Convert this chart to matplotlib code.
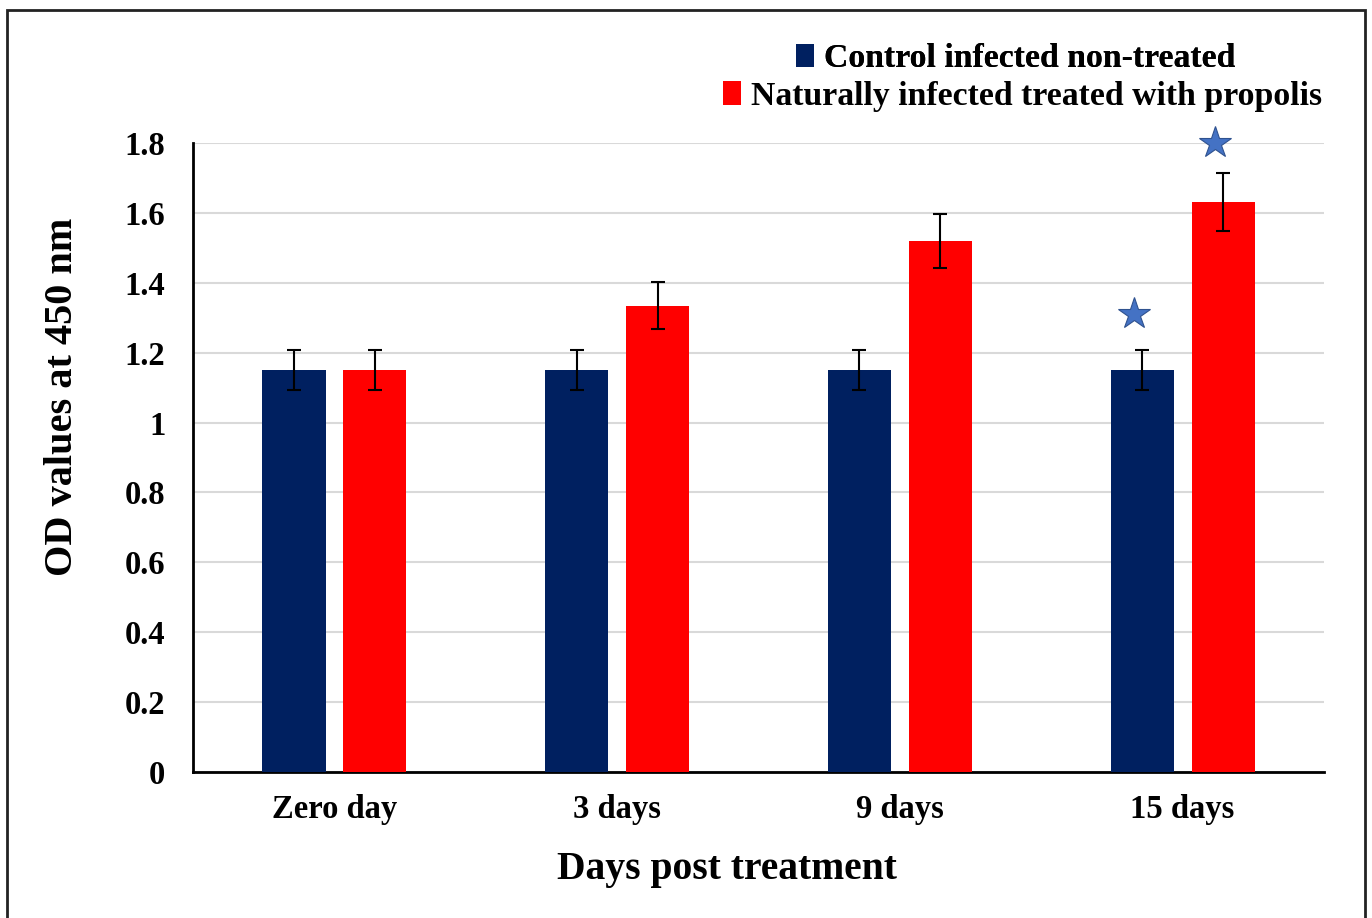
import matplotlib
matplotlib.use('Agg')
import matplotlib.pyplot as plt
from matplotlib.patches import Rectangle, Patch
import numpy as np

plt.rcParams['font.family'] = ['Liberation Serif', 'DejaVu Serif']
plt.rcParams['font.weight'] = 'bold'

# datos
dias = ['Zero day', '3 days', '9 days', '15 days']
control = [1.15, 1.15, 1.15, 1.15]
control_err = [0.057, 0.057, 0.057, 0.057]
propolis = [1.15, 1.335, 1.52, 1.63]
propolis_err = [0.057, 0.067, 0.078, 0.083]
estrellas_x = [3, 3]          # grupo 15 days
estrellas_serie = [0, 1]      # 0 = control, 1 = propolis
estrellas_y = [1.31, 1.80]

c_control = '#002060'
c_prop = '#FF0000'
c_star = '#4472C4'

fig = plt.figure(figsize=(13.72, 9.18), dpi=100)
ax = fig.add_axes([0.1407, 0.1590, 0.8243, 0.6852])

# marco exterior
fig.add_artist(Rectangle((7/1372, -0.05), (1365-7)/1372, 1.05 - 10/918,
                         transform=fig.transFigure, fill=False,
                         edgecolor='#222222', lw=2, clip_on=False))

x = np.arange(len(dias))
w = 0.223
off = 0.143
ax.bar(x - off, control, w, color=c_control, zorder=3)
ax.bar(x + off, propolis, w, color=c_prop, zorder=3)
ax.errorbar(x - off, control, yerr=control_err, fmt='none', ecolor='black',
            elinewidth=1.5, capsize=4.7, capthick=1.5, zorder=4)
ax.errorbar(x + off, propolis, yerr=propolis_err, fmt='none', ecolor='black',
            elinewidth=1.5, capsize=4.7, capthick=1.5, zorder=4)

sx = np.array(estrellas_x) + np.where(np.array(estrellas_serie) == 0, -off, off) - 0.03
ax.plot(sx, estrellas_y, linestyle='none', marker='*', ms=24,
        color=c_star, markeredgecolor='#2f528f', markeredgewidth=0.8,
        zorder=5, clip_on=False)

ax.set_xlim(-0.5, 3.5)
ax.set_ylim(0, 1.8)
ax.set_yticks(np.arange(0, 1.81, 0.2))
ax.set_yticklabels(['0', '0.2', '0.4', '0.6', '0.8', '1', '1.2', '1.4', '1.6', '1.8'])
ax.set_xticks(x)
ax.set_xticklabels(dias)
ax.tick_params(axis='both', length=0, labelsize=23.5)
ax.tick_params(axis='y', pad=20)
ax.tick_params(axis='x', pad=16)
ax.grid(axis='y', color='#d9d9d9', lw=1.5, zorder=0)
ax.set_axisbelow(True)
for s in ['top', 'right']:
    ax.spines[s].set_visible(False)
ax.spines['left'].set_linewidth(2)
ax.spines['bottom'].set_linewidth(2)

ax.set_xlabel('Days post treatment', fontsize=28.5, fontweight='bold')
ax.set_ylabel('OD values at 450 nm', fontsize=29, fontweight='bold')
ax.xaxis.set_label_coords(0.472, -0.125)
ax.yaxis.set_label_coords(-0.099, 0.596)

# leyenda, una entrada por fila
h1 = Patch(facecolor=c_control)
h2 = Patch(facecolor=c_prop)
opts = dict(loc='center left', frameon=False, fontsize=24.3,
            handlelength=0.53, handleheight=0.71, handletextpad=0.3,
            borderpad=0, borderaxespad=0)
lg1 = fig.legend([h1], ['Control infected non-treated'],
                 bbox_to_anchor=(796/1372, 0.936), **opts)
lg2 = fig.legend([h2], ['Naturally infected treated with propolis'],
                 bbox_to_anchor=(723/1372, 0.895), **opts)
fig.add_artist(lg1)

fig.savefig('out.png', dpi=100)
